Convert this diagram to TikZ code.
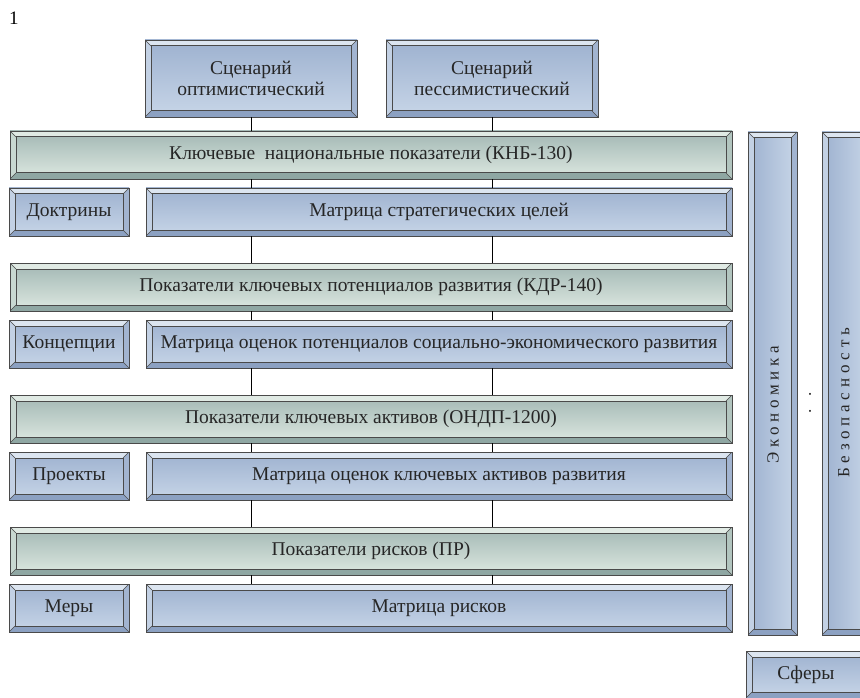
\documentclass[tikz,border=0pt]{standalone}
\usepackage{fontspec}
\setmainfont{Liberation Serif}
\definecolor{bfaceT}{HTML}{9DB1CF}
\definecolor{bfaceB}{HTML}{C8D6E8}
\definecolor{bbevT}{HTML}{DCE5F0}
\definecolor{bbevL}{HTML}{C3D1E4}
\definecolor{bbevB}{HTML}{8CA1C2}
\definecolor{bbevR}{HTML}{A2B4D0}
\definecolor{gfaceT}{HTML}{A2B7B3}
\definecolor{gfaceB}{HTML}{DEE9E2}
\definecolor{gbevT}{HTML}{E0EAE4}
\definecolor{gbevL}{HTML}{C8D8D1}
\definecolor{gbevB}{HTML}{8FA7A3}
\definecolor{gbevR}{HTML}{B2C5BF}
\definecolor{edge}{HTML}{4A4A4A}
\newcommand\bevdraw[4]{%
  \path (path picture bounding box.north west) coordinate (pNW)
        (path picture bounding box.north east) coordinate (pNE)
        (path picture bounding box.south east) coordinate (pSE)
        (path picture bounding box.south west) coordinate (pSW);
  \path (pNW) ++(6pt,-6pt) coordinate (iNW)
        (pNE) ++(-6pt,-6pt) coordinate (iNE)
        (pSE) ++(-6pt,6pt) coordinate (iSE)
        (pSW) ++(6pt,6pt) coordinate (iSW);
  \fill[#1] (pNW)--(pNE)--(iNE)--(iNW)--cycle;
  \fill[#2] (pNW)--(iNW)--(iSW)--(pSW)--cycle;
  \fill[#3] (pSW)--(iSW)--(iSE)--(pSE)--cycle;
  \fill[#4] (pNE)--(pSE)--(iSE)--(iNE)--cycle;
  \draw[edge, line width=1pt] (iNW) rectangle (iSE);
  \draw[edge, line width=0.5pt] (pNW)--(iNW) (pNE)--(iNE) (pSE)--(iSE) (pSW)--(iSW);
}
\tikzset{
  base/.style={inner sep=0pt, outer sep=0pt, draw=edge, line width=0.9pt,
    font=\fontsize{19.5}{21}\selectfont, text=black!85, align=center},
  bluebox/.style={base, top color=bfaceT, bottom color=bfaceB,
    path picture={\bevdraw{bbevT}{bbevL}{bbevB}{bbevR}}},
  greenbox/.style={base, top color=gfaceT, bottom color=gfaceB,
    path picture={\bevdraw{gbevT}{gbevL}{gbevB}{gbevR}}},
  vbar/.style={base, left color=bfaceT, right color=bfaceB,
    path picture={\bevdraw{bbevT}{bbevL}{bbevB}{bbevR}}},
  link/.style={draw=black, line width=0.8pt},
  vtext/.style={font=\fontsize{17}{19}\selectfont, text=black!85, inner sep=0pt}
}
\begin{document}
\begin{tikzpicture}[x=1pt, y=-1pt]
\useasboundingbox (0,0) rectangle (860,698);
\clip (0,0) rectangle (860,698);
\node[font=\fontsize{19}{20}\selectfont, inner sep=0pt, anchor=base west] (num) at (9,25) {1};
% top scenarios
\node[bluebox, minimum width=212pt, minimum height=77pt] (s1) at (251,78.5) {Сценарий\\оптимистический};
\node[bluebox, minimum width=212pt, minimum height=77pt] (s2) at (492,78.5) {Сценарий\\пессимистический};
% green rows
\node[greenbox, minimum width=722pt, minimum height=48pt] (g1) at (371,155) {Ключевые\ \ национальные показатели (КНБ-130)};
\node[greenbox, minimum width=722pt, minimum height=48pt] (g2) at (371,287) {Показатели ключевых потенциалов развития (КДР-140)};
\node[greenbox, minimum width=722pt, minimum height=48pt] (g3) at (371,419) {Показатели ключевых активов (ОНДП-1200)};
\node[greenbox, minimum width=722pt, minimum height=48pt] (g4) at (371,551) {Показатели рисков (ПР)};
% matrices
\node[bluebox, minimum width=586pt, minimum height=48pt] (m1) at (439,212) {Матрица стратегических целей};
\node[bluebox, minimum width=586pt, minimum height=48pt] (m2) at (439,344) {Матрица оценок потенциалов социально-экономического развития};
\node[bluebox, minimum width=586pt, minimum height=48pt] (m3) at (439,476) {Матрица оценок ключевых активов развития};
\node[bluebox, minimum width=586pt, minimum height=48pt] (m4) at (439,608) {Матрица рисков};
% left boxes
\node[bluebox, minimum width=120pt, minimum height=48pt] (d1) at (69,212) {Доктрины};
\node[bluebox, minimum width=120pt, minimum height=48pt] (d2) at (69,344) {Концепции};
\node[bluebox, minimum width=120pt, minimum height=48pt] (d3) at (69,476) {Проекты};
\node[bluebox, minimum width=120pt, minimum height=48pt] (d4) at (69,608) {Меры};
% vertical bars
\node[vbar, minimum width=49pt, minimum height=503pt] (econ) at (772.5,383.5) {};
\node[vbar, minimum width=48pt, minimum height=503pt] (sec) at (846,383.5) {};
\node[vtext, rotate=90] (econt) at (773,405) {\addfontfeatures{LetterSpace=28}Экономика};
\node[vtext, rotate=90] (sect) at (844,403) {\addfontfeatures{LetterSpace=28}Безопасность};
\node[vtext, rotate=90] (dots) at (810,403) {.\hspace{13pt}.};
\node[bluebox, minimum width=120pt, minimum height=47pt] (sph) at (806,674.5) {Сферы};
% connectors
\draw[link] (s1.south) -- (s1.south |- g1.north);
\draw[link] (s2.south) -- (s2.south |- g1.north);
\foreach \g/\m/\n in {g1/m1/g2, g2/m2/g3, g3/m3/g4} {
  \draw[link] (s1.south |- \g.south) -- (s1.south |- \m.north);
  \draw[link] (s2.south |- \g.south) -- (s2.south |- \m.north);
  \draw[link] (s1.south |- \m.south) -- (s1.south |- \n.north);
  \draw[link] (s2.south |- \m.south) -- (s2.south |- \n.north);
}
\draw[link] (s1.south |- g4.south) -- (s1.south |- m4.north);
\draw[link] (s2.south |- g4.south) -- (s2.south |- m4.north);
\end{tikzpicture}
\end{document}
